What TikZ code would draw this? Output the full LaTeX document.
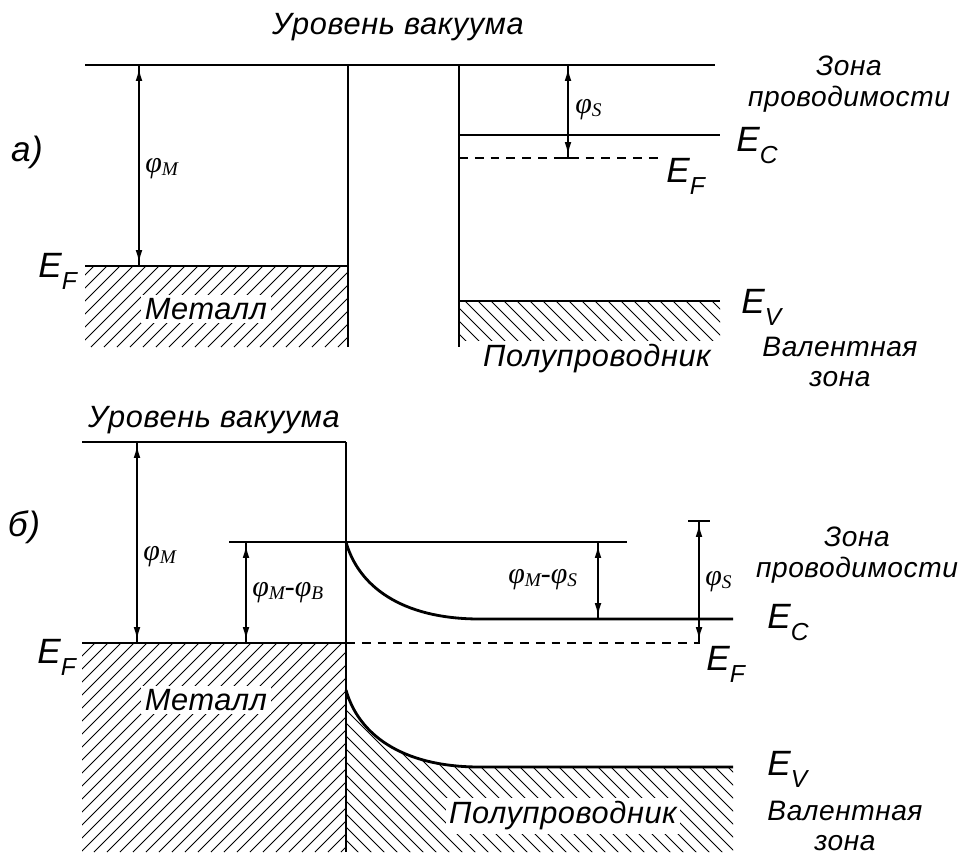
\documentclass[tikz,border=0pt]{standalone}
\usepackage{fontspec}
\setmainfont{Liberation Sans}
\newfontfamily\lsans{Liberation Sans}[LetterSpace=2]
\newfontfamily\lserif{Liberation Serif}
\usetikzlibrary{arrows.meta}

% energy level label with lowered index, work function label
\newcommand{\Elev}[2]{#1\raisebox{-7pt}{\fontsize{14}{14}\selectfont #2}}
\newcommand{\phisub}[1]{φ\raisebox{-1.5pt}{\fontsize{11}{11}\selectfont #1}}

\begin{document}
\begin{tikzpicture}[x=0.02cm, y=-0.02cm,
  every node/.style={inner sep=0pt},
  lvl/.style={line width=1.6pt},
  wall/.style={line width=0.85pt},
  dashlvl/.style={line width=0.85pt, dash pattern=on 5pt off 4pt},
  hatchline/.style={line width=0.5pt},
  dimline/.style={line width=0.8pt},
  dimarrow/.style={line width=0.8pt, {Latex[length=7pt,width=3.8pt]}-{Latex[length=7pt,width=3.8pt]}, shorten <=2pt, shorten >=2pt},
  lbl/.style={font=\lsans\itshape\fontsize{17.5}{20}\selectfont},
  zone/.style={font=\lsans\itshape\fontsize{16}{17.5}\selectfont, align=center},
  elbl/.style={font=\lsans\itshape\fontsize{20}{22}\selectfont, anchor=base west},
  phil/.style={font=\lserif\itshape\fontsize{17}{19}\selectfont, anchor=west},
  whitebox/.style={fill=white, inner sep=2pt}]
\useasboundingbox (0,0) rectangle (962,859);

%% a) before contact
\begin{scope}
  \clip (85,266) rectangle (348,347);
  \foreach \x in {0,13,...,350} \draw[hatchline] (\x,347) -- ++(90,-90);
\end{scope}
\begin{scope}
  \clip (459,301) rectangle (720,340);
  \foreach \x in {400,413,...,720} \draw[hatchline] (\x,301) -- ++(60,60);
\end{scope}

\coordinate (vacAL) at (85,65);
\coordinate (vacAR) at (715,65);
\coordinate (metAtop) at (348,65);
\coordinate (metAbot) at (348,347);
\coordinate (semAtop) at (459,65);
\coordinate (semAbot) at (459,347);
\coordinate (efAL) at (85,266);
\coordinate (efAR) at (348,266);
\coordinate (ecAL) at (459,135);
\coordinate (ecAR) at (720,135);
\coordinate (efsAL) at (459,158);
\coordinate (efsAR) at (663,158);
\coordinate (evAL) at (459,301);
\coordinate (evAR) at (720,301);
\coordinate (phiMAt) at (139,65);
\coordinate (phiMAb) at (139,266);
\coordinate (phiSAt) at (568,65);
\coordinate (phiSAb) at (568,158);

\draw[wall] (vacAL) -- (vacAR);
\draw[wall] (metAtop) -- (metAbot);
\draw[wall] (semAtop) -- (semAbot);
\draw[lvl] (efAL) -- (efAR);
\draw[lvl] (ecAL) -- (ecAR);
\draw[lvl] (evAL) -- (evAR);
\draw[dashlvl] (efsAL) -- (efsAR);
\draw[dimline] (phiMAt) -- (phiMAb);
\draw[dimarrow] (phiMAt) -- (phiMAb);
\draw[dimline] (phiSAt) -- (phiSAb);
\draw[dimarrow] (phiSAt) -- (phiSAb);
\draw[dimline] ([xshift=-6]phiSAb) -- ([xshift=6]phiSAb);

\node[lbl] (vacA) at (398,27) {Уровень вакуума};
\node[font=\lsans\itshape\fontsize{20}{22}\selectfont] (labA) at (27,152) {а)};
\node[lbl, whitebox] (metA) at (206,309) {Металл};
\node[lbl, whitebox] (semA) at (597,359) {Полупроводник};
\node[zone] (cbA) at (849,84) {Зона\\проводимости};
\node[zone] (vbA) at (840,362) {Валентная\\зона};
\node[elbl] (EfA) at (38,277) {\Elev{E}{F}};
\node[elbl] (EcA) at (736,151) {\Elev{E}{C}};
\node[elbl] (EfsA) at (666,182) {\Elev{E}{F}};
\node[elbl] (EvA) at (741,313) {\Elev{E}{V}};
\node[phil] (phiMA) at (145,169) {\phisub{M}};
\node[phil] (phiSA) at (575,110) {\phisub{S}};

%% b) after contact
\begin{scope}
  \clip (82,643) rectangle (346,852);
  \foreach \x in {-140,-127,...,350} \draw[hatchline] (\x,852) -- ++(220,-220);
\end{scope}
\begin{scope}
  \clip (346,690) .. controls (358,733) and (400,767) .. (480,767) -- (733,767) -- (733,852) -- (346,852) -- cycle;
  \foreach \x in {160,173,...,740} \draw[hatchline] (\x,680) -- ++(180,180);
\end{scope}

\coordinate (vacBL) at (82,442);
\coordinate (vacBR) at (346,442);
\coordinate (wallB) at (346,852);
\coordinate (efBL) at (82,643);
\coordinate (efBR) at (346,643);
\coordinate (barL) at (229,542);
\coordinate (barR) at (627,542);
\coordinate (ecB0) at (346,542);
\coordinate (ecB1) at (480,619);
\coordinate (ecBR) at (733,619);
\coordinate (evB0) at (346,690);
\coordinate (evB1) at (480,767);
\coordinate (evBR) at (733,767);
\coordinate (efsBR) at (700,643);
\coordinate (phiMBt) at (137,442);
\coordinate (phiMBb) at (137,643);
\coordinate (phiBt) at (246,542);
\coordinate (phiBb) at (246,643);
\coordinate (phiMSt) at (598,542);
\coordinate (phiMSb) at (598,619);
\coordinate (phiSBt) at (699,521);
\coordinate (phiSBb) at (699,643);

\draw[lvl] (vacBL) -- (vacBR);
\draw[wall] (vacBR) -- (wallB);
\draw[lvl] (efBL) -- (efBR);
\draw[wall] (barL) -- (barR);
\draw[lvl] (ecB0) .. controls (358,585) and (400,619) .. (ecB1) -- (ecBR);
\draw[lvl] (evB0) .. controls (358,733) and (400,767) .. (evB1) -- (evBR);
\draw[dashlvl] (efBR) -- (efsBR);
\draw[dimline] (phiMBt) -- (phiMBb);
\draw[dimarrow] (phiMBt) -- (phiMBb);
\draw[dimline] (phiBt) -- (phiBb);
\draw[dimarrow] (phiBt) -- (phiBb);
\draw[dimline] (phiMSt) -- (phiMSb);
\draw[dimarrow] (phiMSt) -- (phiMSb);
\draw[dimline] (phiSBt) -- (phiSBb);
\draw[dimarrow] (phiSBt) -- (phiSBb);
\draw[dimline] ([xshift=-6]phiSBt) -- ([xshift=6]phiSBt);

\node[lbl] (vacB) at (214,420) {Уровень вакуума};
\node[font=\lsans\itshape\fontsize{20}{22}\selectfont] (labB) at (24,527) {б)};
\node[lbl, whitebox] (metB) at (206,700) {Металл};
\node[lbl, whitebox] (semB) at (563,816) {Полупроводник};
\node[zone] (cbB) at (857,555) {Зона\\проводимости};
\node[zone] (vbB) at (845,826) {Валентная\\зона};
\node[elbl] (EfB) at (37,663) {\Elev{E}{F}};
\node[elbl] (EcB) at (767,628) {\Elev{E}{C}};
\node[elbl] (EfsB) at (706,670) {\Elev{E}{F}};
\node[elbl] (EvB) at (767,775) {\Elev{E}{V}};
\node[phil] (phiMB) at (143,557) {\phisub{M}};
\node[phil] (phiMBl) at (252,593) {\phisub{M}-\phisub{B}};
\node[phil] (phiMSl) at (508,580) {\phisub{M}-\phisub{S}};
\node[phil] (phiSB) at (705,582) {\phisub{S}};
\end{tikzpicture}
\end{document}
